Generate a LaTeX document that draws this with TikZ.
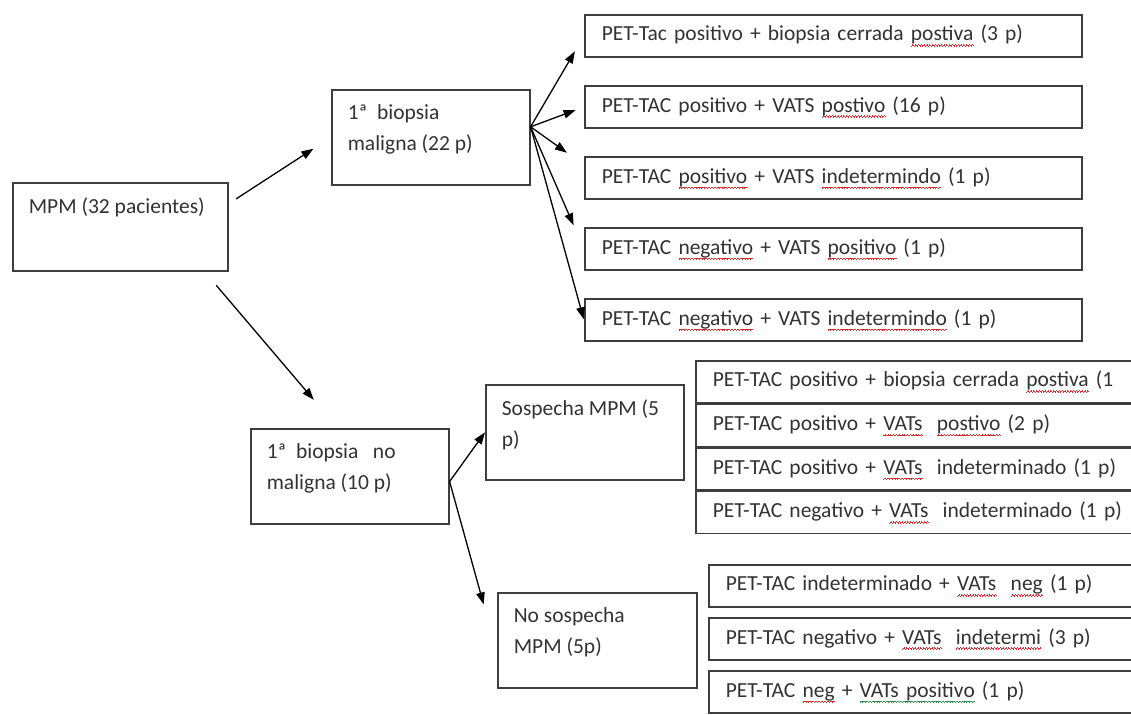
\documentclass[tikz,border=0pt]{standalone}
\usepackage{fontspec}
\setmainfont{Carlito}
\usepackage{xcolor}
\usetikzlibrary{arrows.meta,positioning}
\definecolor{textgray}{RGB}{50,50,50}
\definecolor{linegray}{RGB}{62,62,62}
\definecolor{spellred}{RGB}{215,45,45}
\definecolor{spellgreen}{RGB}{40,150,70}
% squiggly spell-check marks
\newcommand{\wavecell}[1]{\textcolor{#1}{\rule[0pt]{.7pt}{.7pt}\rule[.7pt]{.7pt}{.7pt}\rule[1.4pt]{.7pt}{.7pt}\rule[.7pt]{.7pt}{.7pt}}}
\newcommand{\spellmark}[2]{\setbox0=\hbox{#2}\rlap{\lower5.5pt\hbox to \wd0{\xleaders\hbox{\wavecell{#1}}\hfil}}#2}
\newcommand{\redwave}[1]{\spellmark{spellred}{#1}}
\newcommand{\greenwave}[1]{\spellmark{spellgreen}{#1}}
\newcommand{\casetext}[3]{\parbox[t][#1][t]{#2}{\raggedright #3}}
\tikzset{
  casebox/.style={draw=linegray, line width=1.6pt, anchor=north west,
                  inner xsep=16pt, inner ysep=15pt, text=textgray},
  leafbox/.style={draw=linegray, line width=1.6pt, minimum height=42pt,
                  text width=463pt, align=left, inner xsep=17pt, text=textgray},
  flow/.style={-{Triangle[length=12pt,width=8.5pt]}, line width=1.3pt},
}

\begin{document}
\begin{tikzpicture}[x=1pt, y=-1pt, font=\fontsize{21.5}{31}\selectfont]
  \useasboundingbox (0,0) rectangle (1131,714);
  \clip (0,0) rectangle (1131,714);

  % main cases
  \node[casebox] (mpm) at (12,182) {\casetext{58pt}{183pt}{MPM (32 pacientes)}};
  \node[casebox] (mal) at (331,89) {\casetext{65pt}{166pt}{1ª\ \ biopsia\\maligna (22 p)}};
  \node[casebox] (nomal) at (250,428) {\casetext{65pt}{166pt}{1ª\ \ biopsia\ \ \ no\\maligna (10 p)}};
  \node[casebox] (sos) at (485,384) {\casetext{65pt}{166pt}{Sospecha MPM (5\\p)}};
  \node[casebox] (nosos) at (497,592) {\casetext{65pt}{167pt}{No sospecha\\MPM (5p)}};

  % results after malignant biopsy
  \begin{scope}[node distance=27.5pt]
    \node[leafbox, anchor=north west] (t1) at (584,14)
      {PET-Tac positivo + biopsia cerrada \redwave{postiva} (3 p)};
    \node[leafbox, below=of t1] (t2) {PET-TAC positivo + VATS \redwave{postivo} (16 p)};
    \node[leafbox, below=of t2] (t3) {PET-TAC \redwave{positivo} + VATS \redwave{indetermindo} (1 p)};
    \node[leafbox, below=of t3] (t4) {PET-TAC \redwave{negativo} + VATS \redwave{positivo} (1 p)};
    \node[leafbox, below=of t4] (t5) {PET-TAC \redwave{negativo} + VATS \redwave{indetermindo} (1 p)};
  \end{scope}
  \draw[flow, shorten >=18pt] (mal.6) -- (t1.west);
  \draw[flow, shorten >=9pt] (mal.6) -- (t2.west);
  \draw[flow, shorten >=21pt] (mal.6) -- (t3.177);
  \draw[flow, shorten >=26pt] (mal.6) -- (t4.west);
  \draw[flow, shorten >=1pt] (mal.6) -- (t5.west);

  % suspicion of MPM
  \begin{scope}[node distance=0pt, every node/.append style={minimum height=41pt, text width=520pt, inner xsep=16pt}]
    \node[leafbox, anchor=north west] (s1) at (695,360)
      {PET-TAC positivo + biopsia cerrada \redwave{postiva} (1};
    \node[leafbox, below=of s1] (s2) {PET-TAC positivo + \redwave{VATs}\ \ \redwave{postivo} (2 p)};
    \node[leafbox, below=of s2] (s3) {PET-TAC positivo + \redwave{VATs}\ \ indeterminado (1 p)};
    \node[leafbox, below=of s3] (s4) {PET-TAC negativo + \redwave{VATs}\ \ indeterminado (1 p)};
  \end{scope}

  % no suspicion of MPM
  \begin{scope}[node distance=9.5pt, every node/.append style={minimum height=44pt, text width=520pt, inner xsep=16pt}]
    \node[leafbox, anchor=north west] (n1) at (708,564)
      {PET-TAC indeterminado + \redwave{VATs}\ \ \redwave{neg} (1 p)};
    \node[leafbox, below=of n1] (n2) {PET-TAC negativo + \redwave{VATs}\ \ \redwave{indetermi} (3 p)};
    \node[leafbox, below=of n2] (n3) {PET-TAC \redwave{neg} + \greenwave{VATs\ positivo} (1 p)};
  \end{scope}

  \draw[flow, shorten <=9pt, shorten >=21pt] (mpm.12) -- (mal.west);
  \draw[flow, shorten <=18pt, shorten >=37pt] (mpm.-28) -- (nomal.104);
  \draw[flow] (nomal.-3) -- (sos.west);
  \draw[flow, shorten >=50pt] (nomal.-3) -- (nosos.187);
\end{tikzpicture}
\end{document}
